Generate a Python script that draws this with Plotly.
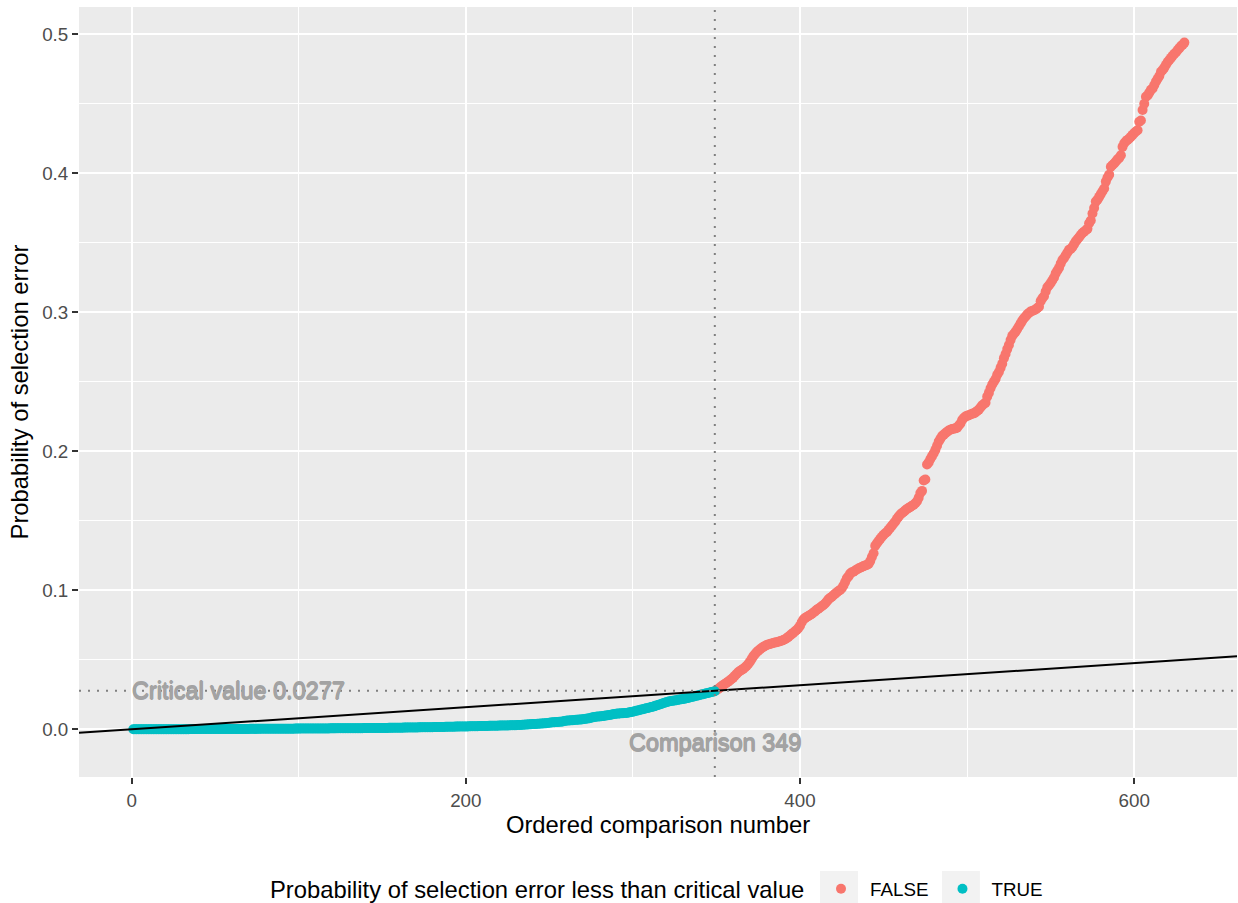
import plotly.graph_objects as go

# ---------------- data ----------------
# Ordered probabilities of selection error; comparisons 1..349 are below the
# critical value (TRUE), comparisons 350..630 are above it (FALSE).
true_p = [
    0.00000, 0.00000, 0.00000, 0.00001, 0.00001, 0.00001, 0.00001, 0.00002, 0.00002, 0.00002,
    0.00003, 0.00003, 0.00003, 0.00004, 0.00004, 0.00005, 0.00005, 0.00005, 0.00006, 0.00006,
    0.00007, 0.00007, 0.00008, 0.00008, 0.00009, 0.00009, 0.00010, 0.00010, 0.00011, 0.00011,
    0.00012, 0.00012, 0.00013, 0.00013, 0.00014, 0.00014, 0.00015, 0.00015, 0.00016, 0.00016,
    0.00017, 0.00017, 0.00018, 0.00018, 0.00019, 0.00019, 0.00020, 0.00020, 0.00021, 0.00021,
    0.00022, 0.00022, 0.00023, 0.00023, 0.00024, 0.00024, 0.00025, 0.00025, 0.00026, 0.00026,
    0.00027, 0.00027, 0.00028, 0.00028, 0.00029, 0.00029, 0.00030, 0.00030, 0.00031, 0.00031,
    0.00032, 0.00032, 0.00033, 0.00033, 0.00034, 0.00034, 0.00035, 0.00035, 0.00036, 0.00036,
    0.00037, 0.00037, 0.00038, 0.00038, 0.00039, 0.00039, 0.00040, 0.00040, 0.00041, 0.00042,
    0.00043, 0.00044, 0.00045, 0.00046, 0.00047, 0.00048, 0.00049, 0.00050, 0.00051, 0.00052,
    0.00053, 0.00054, 0.00055, 0.00056, 0.00057, 0.00058, 0.00058, 0.00059, 0.00060, 0.00061,
    0.00062, 0.00062, 0.00063, 0.00064, 0.00065, 0.00066, 0.00066, 0.00067, 0.00068, 0.00069,
    0.00070, 0.00070, 0.00071, 0.00072, 0.00073, 0.00074, 0.00075, 0.00075, 0.00076, 0.00077,
    0.00078, 0.00079, 0.00080, 0.00081, 0.00082, 0.00083, 0.00084, 0.00085, 0.00086, 0.00087,
    0.00088, 0.00089, 0.00090, 0.00091, 0.00092, 0.00093, 0.00094, 0.00095, 0.00096, 0.00098,
    0.00099, 0.00100, 0.00102, 0.00104, 0.00106, 0.00108, 0.00110, 0.00112, 0.00114, 0.00116,
    0.00118, 0.00120, 0.00122, 0.00124, 0.00126, 0.00128, 0.00130, 0.00132, 0.00134, 0.00136,
    0.00138, 0.00140, 0.00142, 0.00144, 0.00146, 0.00148, 0.00150, 0.00152, 0.00154, 0.00156,
    0.00158, 0.00160, 0.00163, 0.00166, 0.00169, 0.00172, 0.00175, 0.00178, 0.00181, 0.00184,
    0.00187, 0.00190, 0.00192, 0.00194, 0.00196, 0.00198, 0.00200, 0.00202, 0.00204, 0.00206,
    0.00210, 0.00213, 0.00216, 0.00219, 0.00222, 0.00225, 0.00228, 0.00231, 0.00234, 0.00237,
    0.00240, 0.00243, 0.00246, 0.00249, 0.00252, 0.00255, 0.00258, 0.00261, 0.00264, 0.00267,
    0.00270, 0.00273, 0.00276, 0.00279, 0.00282, 0.00285, 0.00288, 0.00291, 0.00295, 0.00300,
    0.00305, 0.00310, 0.00318, 0.00326, 0.00334, 0.00342, 0.00350, 0.00358, 0.00366, 0.00374,
    0.00382, 0.00390, 0.00398, 0.00406, 0.00414, 0.00422, 0.00430, 0.00440, 0.00460, 0.00480,
    0.00490, 0.00500, 0.00510, 0.00520, 0.00530, 0.00540, 0.00550, 0.00570, 0.00600, 0.00620,
    0.00630, 0.00640, 0.00650, 0.00660, 0.00670, 0.00680, 0.00690, 0.00700, 0.00710, 0.00720,
    0.00740, 0.00760, 0.00780, 0.00800, 0.00830, 0.00860, 0.00880, 0.00900, 0.00920, 0.00930,
    0.00940, 0.00950, 0.00970, 0.00990, 0.01010, 0.01030, 0.01050, 0.01080, 0.01100, 0.01120,
    0.01130, 0.01140, 0.01150, 0.01160, 0.01170, 0.01180, 0.01200, 0.01220, 0.01240, 0.01270,
    0.01300, 0.01330, 0.01360, 0.01390, 0.01420, 0.01450, 0.01480, 0.01510, 0.01540, 0.01570,
    0.01600, 0.01630, 0.01670, 0.01710, 0.01750, 0.01790, 0.01830, 0.01870, 0.01910, 0.01950,
    0.01990, 0.02020, 0.02040, 0.02060, 0.02080, 0.02100, 0.02120, 0.02140, 0.02160, 0.02180,
    0.02200, 0.02230, 0.02260, 0.02290, 0.02320, 0.02350, 0.02380, 0.02410, 0.02440, 0.02470,
    0.02500, 0.02530, 0.02560, 0.02590, 0.02620, 0.02650, 0.02680, 0.02710, 0.02740,
]
false_p = [
    0.0282, 0.0290, 0.0300, 0.0310, 0.0318, 0.0326, 0.0335, 0.0343, 0.0352, 0.0362,
    0.0372, 0.0385, 0.0398, 0.0410, 0.0420, 0.0427, 0.0435, 0.0445, 0.0455, 0.0470,
    0.0486, 0.0505, 0.0525, 0.0540, 0.0555, 0.0565, 0.0575, 0.0585, 0.0592, 0.0600,
    0.0606, 0.0610, 0.0614, 0.0618, 0.0621, 0.0624, 0.0627, 0.0630, 0.0633, 0.0638,
    0.0642, 0.0648, 0.0655, 0.0665, 0.0675, 0.0685, 0.0695, 0.0705, 0.0715, 0.0728,
    0.0745, 0.0770, 0.0790, 0.0800, 0.0808, 0.0815, 0.0822, 0.0830, 0.0840, 0.0848,
    0.0860, 0.0868, 0.0876, 0.0885, 0.0894, 0.0905, 0.0920, 0.0935, 0.0945, 0.0954,
    0.0965, 0.0975, 0.0985, 0.0995, 0.1002, 0.1015, 0.1035, 0.1060, 0.1086, 0.1100,
    0.1120, 0.1130, 0.1134, 0.1142, 0.1150, 0.1157, 0.1163, 0.1168, 0.1174, 0.1178,
    0.1182, 0.1190, 0.1210, 0.1240, 0.1266, 0.1320, 0.1338, 0.1355, 0.1370, 0.1385,
    0.1400, 0.1410, 0.1420, 0.1435, 0.1450, 0.1465, 0.1480, 0.1495, 0.1515, 0.1530,
    0.1545, 0.1555, 0.1565, 0.1575, 0.1585, 0.1592, 0.1600, 0.1608, 0.1616, 0.1626,
    0.1640, 0.1665, 0.1700, 0.1715, 0.1790, 0.1797, 0.1905, 0.1920, 0.1945, 0.1965,
    0.1986, 0.2010, 0.2040, 0.2070, 0.2090, 0.2110, 0.2120, 0.2130, 0.2140, 0.2150,
    0.2155, 0.2160, 0.2163, 0.2165, 0.2170, 0.2185, 0.2200, 0.2225, 0.2240, 0.2250,
    0.2255, 0.2260, 0.2265, 0.2270, 0.2273, 0.2280, 0.2290, 0.2300, 0.2315, 0.2330,
    0.2340, 0.2350, 0.2393, 0.2420, 0.2453, 0.2480, 0.2500, 0.2520, 0.2550, 0.2570,
    0.2600, 0.2630, 0.2670, 0.2700, 0.2735, 0.2765, 0.2800, 0.2830, 0.2845, 0.2860,
    0.2880, 0.2900, 0.2920, 0.2940, 0.2957, 0.2970, 0.2985, 0.2995, 0.3005, 0.3010,
    0.3015, 0.3020, 0.3030, 0.3040, 0.3080, 0.3100, 0.3115, 0.3150, 0.3180, 0.3195,
    0.3210, 0.3230, 0.3250, 0.3280, 0.3300, 0.3320, 0.3350, 0.3376, 0.3390, 0.3410,
    0.3430, 0.3450, 0.3455, 0.3470, 0.3490, 0.3510, 0.3525, 0.3540, 0.3556, 0.3570,
    0.3580, 0.3590, 0.3600, 0.3640, 0.3660, 0.3710, 0.3750, 0.3796, 0.3810, 0.3830,
    0.3850, 0.3870, 0.3890, 0.3940, 0.3970, 0.3990, 0.4047, 0.4060, 0.4070, 0.4085,
    0.4100, 0.4110, 0.4130, 0.4190, 0.4216, 0.4230, 0.4240, 0.4250, 0.4263, 0.4276,
    0.4290, 0.4300, 0.4310, 0.4370, 0.4380, 0.4455, 0.4500, 0.4550, 0.4560, 0.4580,
    0.4600, 0.4610, 0.4635, 0.4660, 0.4680, 0.4700, 0.4730, 0.4743, 0.4760, 0.4780,
    0.4800, 0.4815, 0.4830, 0.4845, 0.4860, 0.4870, 0.4887, 0.4900, 0.4915, 0.4925,
    0.4940,
]
true_idx = list(range(1, len(true_p) + 1))
false_idx = list(range(len(true_p) + 1, len(true_p) + len(false_p) + 1))

n_comparisons = 630
alpha = 0.05
crit_index = 349
crit_value = 0.0277
x_ticks = [0, 200, 400, 600]
y_ticks = [0.0, 0.1, 0.2, 0.3, 0.4, 0.5]
x_range = [-31.5, 661.5]
y_range = [-0.0343, 0.5196]

legend_title = "Probability of selection error less than critical value"
crit_label = "Critical value 0.0277"
comp_label = "Comparison 349"

# ---------------- figure ----------------
FONT = "Liberation Sans, Arial, sans-serif"
ANN_COLOR = "#A3A3A3"
ANN_SHADOW = ("0.6px 0 0 #A3A3A3, -0.6px 0 0 #A3A3A3, "
              "0 0.6px 0 #A3A3A3, 0 -0.6px 0 #A3A3A3")
fig = go.Figure()

fig.add_trace(go.Scatter(
    x=false_idx, y=false_p, mode="markers", name="FALSE",
    marker=dict(color="#F8766D", size=10, line=dict(width=0)),
))
fig.add_trace(go.Scatter(
    x=true_idx, y=true_p, mode="markers", name="TRUE",
    marker=dict(color="#00BFC4", size=10, line=dict(width=0)),
))

slope = alpha / n_comparisons
fig.add_trace(go.Scatter(
    x=x_range, y=[slope * v for v in x_range], mode="lines",
    line=dict(color="black", width=2), showlegend=False, hoverinfo="skip",
))

dot = "2px,7px"
fig.add_shape(type="line", xref="x domain", yref="y", x0=0, x1=1,
              y0=crit_value, y1=crit_value,
              line=dict(color="#7F7F7F", width=2, dash=dot))
fig.add_shape(type="line", xref="x", yref="y domain", x0=crit_index, x1=crit_index,
              y0=0, y1=1, line=dict(color="#7F7F7F", width=2, dash=dot))

fig.add_annotation(x=0, y=crit_value, text=crit_label, showarrow=False,
                   xanchor="left", yanchor="middle", xshift=-2,
                   font=dict(family=FONT, size=23.5, color=ANN_COLOR, shadow=ANN_SHADOW))
fig.add_annotation(x=crit_index, y=-0.01, text=comp_label, showarrow=False,
                   xanchor="center", yanchor="middle",
                   font=dict(family=FONT, size=23.5, color=ANN_COLOR, shadow=ANN_SHADOW))

# legend title as a separate text, so the keys can sit where ggplot puts them
fig.add_annotation(xref="paper", yref="paper", x=0.6278, y=-0.1455,
                   xanchor="right", yanchor="middle", showarrow=False,
                   text=legend_title,
                   font=dict(family=FONT, size=23.8, color="black"))

# grey legend-key backgrounds (ggplot style)
for x0 in (0.6399, 0.7452):
    fig.add_shape(type="rect", xref="paper", yref="paper",
                  x0=x0, x1=x0 + 0.0328, y0=-0.170, y1=-0.1221,
                  fillcolor="#F2F2F2", line=dict(width=0), layer="below")

axis_common = dict(
    showgrid=True, gridcolor="white", gridwidth=2.2,
    zeroline=False, showline=False, automargin=False,
    ticks="outside", ticklen=6, tickwidth=2, tickcolor="#333333",
    tickfont=dict(family=FONT, size=18.8, color="#4D4D4D"),
    minor=dict(showgrid=True, gridcolor="white", gridwidth=1.1, ticks=""),
)

fig.update_xaxes(
    range=x_range, tickmode="array", tickvals=x_ticks,
    minor_dtick=100, minor_tick0=0,
    title=dict(text="Ordered comparison number", standoff=5,
               font=dict(family=FONT, size=23.8, color="black")),
    **axis_common,
)
fig.update_yaxes(
    range=y_range, tickmode="array", tickvals=y_ticks,
    ticktext=[f"{v:.1f}" for v in y_ticks],
    minor_dtick=0.05, minor_tick0=0,
    title=dict(text="Probability of selection error", standoff=6,
               font=dict(family=FONT, size=23.8, color="black")),
    **axis_common,
)

fig.update_layout(
    width=1238, height=903,
    margin=dict(l=79, r=1, t=7, b=126),
    paper_bgcolor="white", plot_bgcolor="#EBEBEB",
    font=dict(family=FONT, color="black"),
    showlegend=True,
    legend=dict(
        orientation="h", xref="container", yref="container",
        x=812 / 1238, xanchor="left", y=1 - 889 / 903, yanchor="middle",
        itemwidth=48,
        font=dict(family=FONT, size=18.8, color="black"),
        bgcolor="rgba(0,0,0,0)",
    ),
)

fig.write_html("out.html", config={"displayModeBar": False},
               post_script="document.body.style.margin='0';")
